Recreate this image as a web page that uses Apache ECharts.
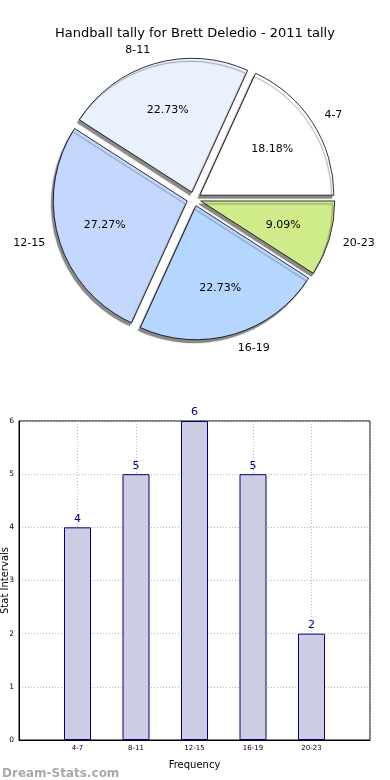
<!DOCTYPE html>
<html>
<head>
<meta charset="utf-8">
<script src="https://cdn.jsdelivr.net/npm/echarts@6/dist/echarts.min.js"></script>
<style>
html,body{margin:0;padding:0;background:#fff;}
#c{width:390px;height:780px;}
</style>
</head>
<body>
<div id="c"></div>
<script>
const titleText = 'Handball tally for Brett Deledio - 2011 tally';
const categories = ['4-7', '8-11', '12-15', '16-19', '20-23'];
const values = [4, 5, 6, 5, 2];
const sliceColors = ['#ffffff', '#eaf1fe', '#c4d8ff', '#b4d6ff', '#d0eb8a'];

const FONT = 'DejaVu Sans';
const chart = echarts.init(document.getElementById('c'), null, {renderer: 'canvas'});

const pieCenter = [194, 199];
const R = 134;

function pieData(withStyle) {
  return categories.map((c, i) => ({
    name: c,
    value: values[i],
    selected: true,
    itemStyle: withStyle ? {color: sliceColors[i]} : {color: 'rgba(0,0,0,0)', borderWidth: 0}
  }));
}

const xData = [''].concat(categories, ['']);
const barData = [null].concat(values, [null]);

chart.setOption({
  animation: false,
  backgroundColor: '#ffffff',
  textStyle: {fontFamily: FONT},
  title: [
    {text: titleText, left: 'center', top: 22,
     textStyle: {fontFamily: FONT, fontSize: 13, fontWeight: 'normal', color: '#000'}},
    {text: 'Dream-Stats.com', left: -3, top: 763,
     textStyle: {fontFamily: FONT, fontSize: 12, fontWeight: 'bold', color: '#aaaaaa'}}
  ],
  grid: {left: 19, right: 20, top: 421, bottom: 40, containLabel: false, outerBoundsMode: 'none',
    show: true, borderColor: '#000', borderWidth: 1, backgroundColor: 'transparent'},
  xAxis: {
    type: 'category', data: xData, boundaryGap: false,
    name: 'Frequency', nameLocation: 'middle', nameGap: 20,
    nameTextStyle: {fontFamily: FONT, fontSize: 10, color: '#000'},
    axisLine: {lineStyle: {color: '#000', width: 1}},
    axisTick: {show: false},
    axisLabel: {fontFamily: FONT, fontSize: 7, color: '#000', margin: 5, interval: 0},
    splitLine: {show: true, lineStyle: {color: '#b8b8b8', type: [1, 2], width: 1}}
  },
  yAxis: {
    type: 'value', min: 0, max: 6, interval: 1,
    name: 'Stat Intervals', nameLocation: 'middle', nameGap: 9, nameMoveOverlap: false,
    nameTextStyle: {fontFamily: FONT, fontSize: 10, color: '#000'},
    axisLine: {show: true, lineStyle: {color: '#000', width: 1}},
    axisTick: {show: false},
    axisLabel: {fontFamily: FONT, fontSize: 7.5, color: '#000', margin: 5},
    splitLine: {show: true, lineStyle: {color: '#b8b8b8', type: [1, 2], width: 1}}
  },
  series: [
    {
      type: 'pie', center: pieCenter, radius: R,
      startAngle: 0, clockwise: false,
      selectedMode: 'multiple', selectedOffset: 7,
      avoidLabelOverlap: false, silent: true,
      emphasis: {disabled: true, scale: false},
      itemStyle: {borderColor: '#000', borderWidth: 0.8,
        shadowColor: 'rgba(60,60,60,0.6)', shadowBlur: 1, shadowOffsetX: -2, shadowOffsetY: 3},
      label: {show: true, position: 'outside', fontFamily: FONT, fontSize: 11, color: '#000',
        formatter: p => p.name, distanceToLabelLine: 0},
      labelLine: {show: false, length: 14, length2: 0},
      data: pieData(true),
      z: 2
    },
    {
      type: 'pie', center: pieCenter, radius: [R * 0.24, R],
      startAngle: 0, clockwise: false,
      selectedMode: 'multiple', selectedOffset: 7,
      avoidLabelOverlap: false, silent: true,
      emphasis: {disabled: true, scale: false},
      label: {show: true, position: 'inside', fontFamily: FONT, fontSize: 11, color: '#000',
        formatter: p => p.percent.toFixed(2) + '%'},
      labelLine: {show: false},
      data: pieData(false),
      z: 3
    },
    {
      type: 'bar', data: barData, barWidth: 27,
      itemStyle: {color: '#ccccE3', borderColor: '#000080', borderWidth: 1},
      label: {show: true, position: 'top', distance: 3, fontFamily: FONT, fontSize: 11, color: '#000080'},
      silent: true, z: 4
    }
  ]
});
</script>
</body>
</html>
